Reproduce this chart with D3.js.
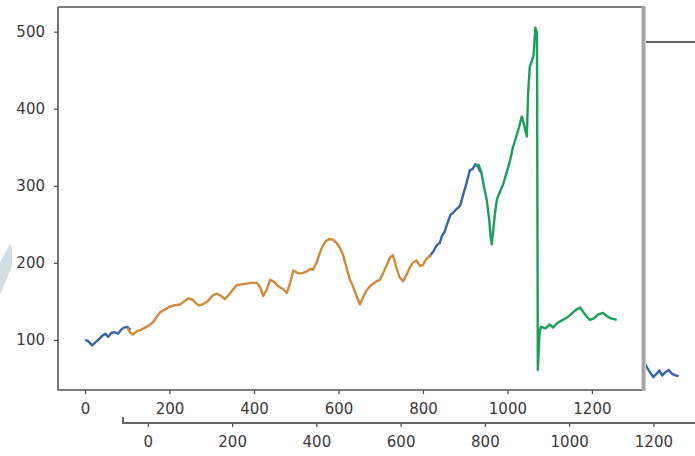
<!DOCTYPE html>
<html>
<head>
<meta charset="utf-8">
<script src="https://cdn.jsdelivr.net/npm/d3@7"></script>
<style>
  html, body { margin: 0; padding: 0; background: #fff; }
  svg { display: block; }
  .tick text { fill: #3a3a3a; font-size: 15px; font-family: "DejaVu Sans", sans-serif; }
  .tick line { stroke: #444; stroke-width: 1.2; }
</style>
</head>
<body>
<svg id="chart" width="695" height="456"></svg>
<script>
// actual price series (blue) - null marks the stretch hidden under the train prediction
const actualSeries = [
  [0, 100], [8, 98], [17, 93], [25, 97], [33, 101], [40, 105], [48, 108], [55, 104],
  [62, 109], [70, 110], [78, 108], [85, 113], [92, 116], [100, 117], [108, 113],
  [110, null],
  [815, 208], [825, 215], [833, 223], [840, 226], [845, 235], [851, 240], [857, 250],
  [865, 262], [871, 265], [880, 270], [888, 274], [896, 290], [904, 305], [911, 320],
  [918, 322], [924, 328], [930, 325], [936, 318]
];

// train prediction (orange)
const trainPredict = [
  [100, 116], [106, 110], [113, 107], [122, 111], [132, 113], [142, 116], [152, 119],
  [161, 123], [170, 130], [178, 136], [188, 139], [200, 143], [212, 145], [225, 146],
  [235, 150], [245, 154], [255, 152], [262, 148], [268, 145], [278, 146], [290, 150],
  [303, 158], [312, 160], [322, 157], [331, 153], [340, 158], [350, 165], [359, 171],
  [370, 172], [382, 173], [395, 174], [407, 174], [415, 168], [422, 157], [430, 165],
  [438, 178], [446, 176], [455, 171], [462, 168], [469, 166], [478, 161], [486, 175],
  [493, 190], [500, 188], [508, 186], [516, 187], [525, 189], [533, 192], [540, 191],
  [548, 200], [556, 213], [562, 221], [570, 228], [578, 231], [587, 230], [595, 226],
  [604, 219], [611, 210], [618, 196], [627, 178], [634, 170], [642, 158], [651, 146],
  [658, 155], [665, 163], [672, 168], [680, 172], [690, 176], [698, 178], [706, 187],
  [714, 197], [722, 207], [729, 210], [736, 196], [744, 182], [753, 176], [760, 183],
  [768, 193], [776, 200], [785, 203], [793, 196], [800, 197], [808, 205], [814, 208],
  [820, 210]
];

// test prediction (green)
const testPredict = [
  [925, 326], [932, 327], [938, 318], [944, 300], [951, 282], [957, 255], [960, 235],
  [963, 224], [966, 240], [970, 262], [975, 282], [982, 292], [990, 302], [998, 317],
  [1005, 330], [1013, 350], [1020, 362], [1027, 375], [1034, 390], [1040, 378],
  [1046, 364], [1049, 420], [1053, 455], [1058, 462], [1062, 470], [1066, 505],
  [1070, 498], [1072, 61], [1076, 108], [1079, 117], [1090, 115], [1100, 120],
  [1108, 116], [1118, 122], [1128, 125], [1141, 129], [1150, 133], [1160, 138],
  [1172, 142], [1180, 136], [1188, 130], [1195, 126], [1205, 128], [1215, 133],
  [1226, 135], [1235, 131], [1245, 128], [1252, 127], [1259, 126]
];

// the window behind: only its right tail shows
const backSeries = [
  [1180, 112], [1186, 106], [1193, 100], [1200, 95], [1207, 99], [1214, 103],
  [1221, 97], [1228, 101], [1236, 104], [1244, 99], [1252, 97], [1260, 96]
];

const xTicks = [0, 200, 400, 600, 800, 1000, 1200];
const yTicks = [100, 200, 300, 400, 500];

const colors = { actual: "#3565a6", train: "#cf8a3e", test: "#1f9d5a" };
const fmt = d3.format("d");

const svg = d3.select("#chart");

// ---- chart behind ----
const back = svg.append("g").attr("class", "back");
const bx = d3.scaleLinear().domain([-59, 1453]).range([123, 760]);
const by = d3.scaleLinear().domain([35, 531]).range([423, 42]);

back.append("rect")
  .attr("x", 123).attr("y", 42).attr("width", 640).attr("height", 381)
  .attr("fill", "#fff");

back.append("path")
  .datum(backSeries)
  .attr("fill", "none")
  .attr("stroke", colors.actual)
  .attr("stroke-width", 2.4)
  .attr("d", d3.line().x(d => bx(d[0])).y(d => by(d[1])));

back.append("g")
  .attr("transform", "translate(0,423)")
  .call(d3.axisBottom(bx).tickValues(xTicks).tickFormat(fmt).tickSize(4).tickPadding(9))
  .call(g => g.select(".domain").remove());

back.append("path")
  .attr("d", `M123,42 V423 H760 M123,42 H760`)
  .attr("fill", "none")
  .attr("stroke", "#666")
  .attr("stroke-width", 2);

// ---- main figure ----
const main = svg.append("g").attr("class", "main");
main.append("rect")
  .attr("x", 0).attr("y", 0).attr("width", 646).attr("height", 417)
  .attr("fill", "#fff");

// faint shape at the left edge
main.append("path")
  .attr("d", "M0,262 L9,246 Q12,242 12,251 L12,266 L0,295 Z")
  .attr("fill", "#d5dce2");

const x = d3.scaleLinear().domain([-64, 1321]).range([58, 643]);
const y = d3.scaleLinear().domain([35, 532]).range([390, 7]);

const line = d3.line()
  .defined(d => d[1] != null)
  .x(d => x(d[0]))
  .y(d => y(d[1]));

[[actualSeries, colors.actual], [trainPredict, colors.train], [testPredict, colors.test]]
  .forEach(([data, color]) => {
    main.append("path")
      .datum(data)
      .attr("fill", "none")
      .attr("stroke", color)
      .attr("stroke-width", 2.4)
      .attr("stroke-linejoin", "round")
      .attr("d", line);
  });

main.append("g")
  .attr("transform", "translate(0,390)")
  .call(d3.axisBottom(x).tickValues(xTicks).tickFormat(fmt).tickSize(4).tickPadding(9))
  .call(g => g.select(".domain").remove());

main.append("g")
  .attr("transform", "translate(58,0)")
  .call(d3.axisLeft(y).tickValues(yTicks).tickFormat(fmt).tickSize(4).tickPadding(9))
  .call(g => g.select(".domain").remove());

// spines
main.append("path")
  .attr("d", "M58,7 V390 H643 M58,7 H645")
  .attr("fill", "none")
  .attr("stroke", "#555")
  .attr("stroke-width", 1.6);

main.append("line")
  .attr("x1", 643.5).attr("x2", 643.5).attr("y1", 6).attr("y2", 391)
  .attr("stroke", "#a6a6a6")
  .attr("stroke-width", 4);
</script>
</body>
</html>
